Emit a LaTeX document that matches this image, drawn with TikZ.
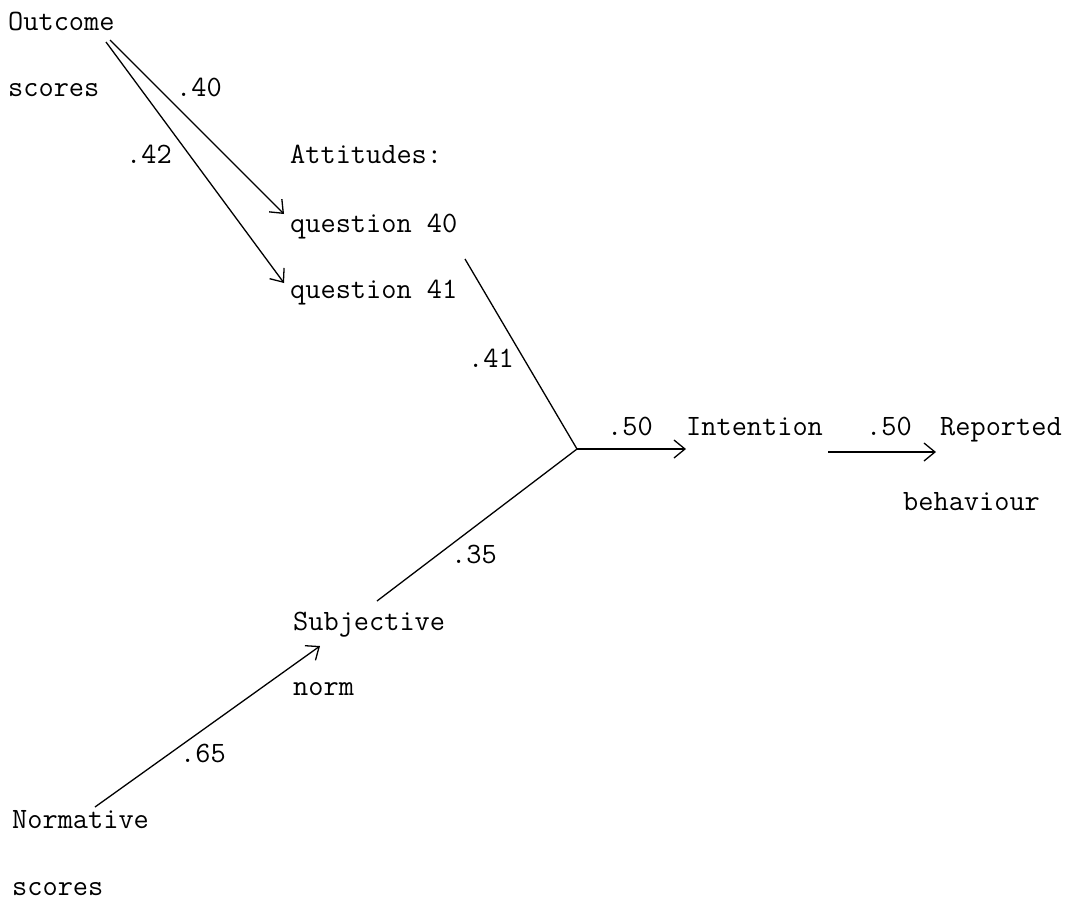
\documentclass[tikz,border=0pt]{standalone}
\usetikzlibrary{arrows.meta}
\begin{document}
\begin{tikzpicture}[x=1pt,y=-1pt,
  lbl/.style={anchor=base west,inner sep=0pt,font=\ttfamily\fontsize{29.5}{29.5}\selectfont},
  path/.style={line width=1.3pt},
  arr/.style={path,-{Straight Barb[length=11pt,width=18pt,line width=1.3pt]}}]
\useasboundingbox (0,0) rectangle (1082,903);

% variables
\node[lbl] (out1) at (8,30) {Outcome};
\node[lbl] (out2) at (8,96) {scores};
\node[lbl] (att)  at (290,163) {Attitudes:};
\node[lbl] (q40)  at (290,232) {question 40};
\node[lbl] (q41)  at (290,298) {question 41};
\node[lbl] (sub1) at (293,630) {Subjective};
\node[lbl] (sub2) at (293,695) {norm};
\node[lbl] (nor1) at (12,828) {Normative};
\node[lbl] (nor2) at (12,895) {scores};
\node[lbl] (int)  at (686,435) {Intention};
\node[lbl] (rep1) at (940,435) {Reported};
\node[lbl] (rep2) at (903,510) {behaviour};

% path coefficients
\node[lbl] (c40) at (176,96)  {.40};
\node[lbl] (c42) at (126,163) {.42};
\node[lbl] (c41) at (468,367) {.41};
\node[lbl] (c35) at (451,563) {.35};
\node[lbl] (c65) at (180,762) {.65};
\node[lbl] (c50a) at (607,435) {.50};
\node[lbl] (c50b) at (866,435) {.50};

% line ends
\coordinate (j)   at (577,449);
\coordinate (oa)  at (110,40);
\coordinate (ob)  at (106,42);
\coordinate (qa)  at (284,214);
\coordinate (qb)  at (284,283);
\coordinate (qe)  at (465,259);
\coordinate (se)  at (377,601);
\coordinate (sa)  at (320,646);
\coordinate (ns)  at (95,807);
\coordinate (ie)  at (686,449);
\coordinate (is)  at (828,452);
\coordinate (re)  at (936,452);

% connectors
\draw[arr] (oa) -- (qa);
\draw[arr] (ob) -- (qb);
\draw[path] (qe) -- (j);
\draw[path] (se) -- (j);
\draw[arr] (j) -- (ie);
\draw[arr] (is) -- (re);
\draw[arr] (ns) -- (sa);
\end{tikzpicture}
\end{document}
